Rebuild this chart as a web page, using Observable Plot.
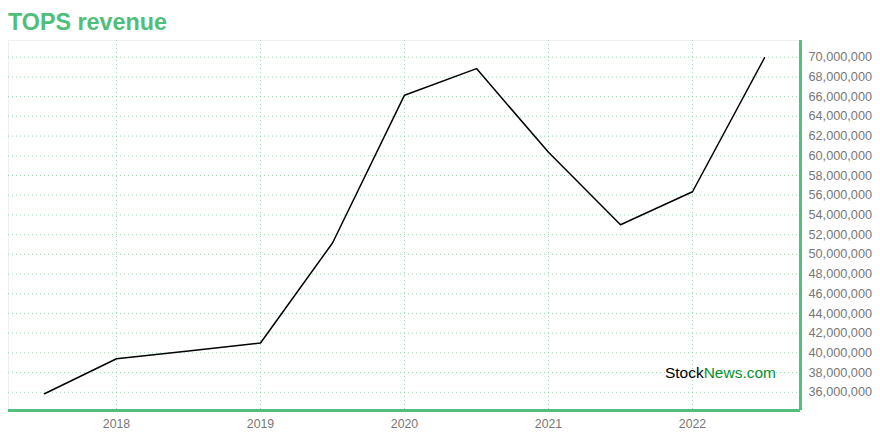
<!DOCTYPE html>
<html>
<head>
<meta charset="utf-8">
<script src="https://cdn.jsdelivr.net/npm/d3@7"></script>
<script src="https://cdn.jsdelivr.net/npm/@observablehq/plot@0.6"></script>
<style>
  html, body { margin: 0; padding: 0; background: #fff; }
  #wrap { position: relative; width: 880px; height: 440px; font-family: "Liberation Sans", Arial, sans-serif; }
  #title { position: absolute; left: 8px; top: 11px; font-size: 23.3px; line-height: 23px; font-weight: bold; color: #50be7b; }
  #mark { position: absolute; right: 104px; top: 364px; font-size: 15.5px; line-height: 18px; }
  #mark .a { color: #000; }
  #mark .b { color: #0b8f2e; }
</style>
</head>
<body>
<div id="wrap">
  <div id="chart"></div>
  <div id="title">TOPS revenue</div>
  <div id="mark"><span class="a">Stock</span><span class="b">News.com</span></div>
</div>
<script>
const periods = [2017.5, 2018, 2018.5, 2019, 2019.5, 2020, 2020.5, 2021, 2021.5, 2022, 2022.5];
const revenue = [35.85e6, 39.4e6, 40.2e6, 41.0e6, 51.15e6, 66.15e6, 68.85e6, 60.35e6, 53.0e6, 56.35e6, 69.95e6];
const xTicks = [2018, 2019, 2020, 2021, 2022];
const yTicks = d3.range(36e6, 70e6 + 1, 2e6);

const data = periods.map((p, i) => ({period: p, revenue: revenue[i]}));
const xDomain = [2017.25, 2022.75];
const yDomain = [34.15e6, 71.7e6];

const green = "#52bf7e";
const grid = "#9ad8b2";

const chart = Plot.plot({
  width: 880,
  height: 440,
  marginTop: 40,
  marginLeft: 8,
  marginRight: 80,
  marginBottom: 30,
  style: { fontFamily: "Liberation Sans, Arial, sans-serif", fontSize: "12.5px", color: "#666", background: "#fff" },
  x: { domain: xDomain, ticks: xTicks, tickFormat: d3.format("d"), label: null },
  y: { domain: yDomain, ticks: yTicks, tickFormat: d3.format(","), label: null },
  marks: [
    Plot.frame({ stroke: "#eeeeee", strokeWidth: 1 }),
    Plot.gridX(xTicks, { stroke: grid, strokeOpacity: 1, strokeDasharray: "1,3" }),
    Plot.gridY(yTicks, { stroke: grid, strokeOpacity: 1, strokeDasharray: "1,3" }),
    Plot.axisX(xTicks, { tickSize: 0, tickPadding: 9, fill: "#777", fontSize: 12.3, tickFormat: d3.format("d") }),
    Plot.axisY(yTicks, { anchor: "right", tickSize: 0, tickPadding: 8, fill: "#777", fontSize: 12.7, tickFormat: d3.format(",") }),
    Plot.ruleY([yDomain[0]], { stroke: green, strokeWidth: 3 }),
    Plot.ruleX([xDomain[1]], { stroke: green, strokeWidth: 3 }),
    Plot.line(data, { x: "period", y: "revenue", stroke: "#000", strokeWidth: 1.5 })
  ]
});
document.getElementById("chart").appendChild(chart);
</script>
</body>
</html>
